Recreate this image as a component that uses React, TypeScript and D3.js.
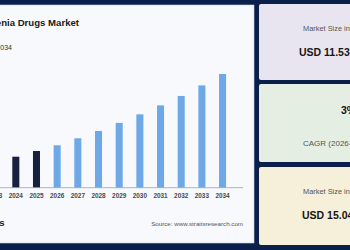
import React from "react";
import * as d3 from "d3";

const years = ["2023", "2024", "2025", "2026", "2027", "2028", "2029", "2030", "2031", "2032", "2033", "2034"];
const marketSize = [11.0, 11.27, 11.53, 11.79, 12.11, 12.44, 12.81, 13.2, 13.61, 14.04, 14.52, 15.04];
const historicYears = ["2023", "2024", "2025"];

const cards = [
  { label: "Market Size in 2025", value: "USD 11.53 Billion", fill: "#e9e5f0", valueFirst: false },
  { label: "CAGR (2026-2034)", value: "3%", fill: "#e5eee2", valueFirst: true },
  { label: "Market Size in 2034", value: "USD 15.04 Billion", fill: "#f6efd9", valueFirst: false },
];

const W = 350;
const H = 250;
const font = "'Liberation Sans', Arial, sans-serif";

const App = () => {
  const baseline = 187.7;
  const x = d3
    .scaleBand()
    .domain(years)
    .range([-15.2, 232.9])
    .paddingInner(0.66)
    .paddingOuter(0.33);
  const y = d3.scaleLinear().domain([9.857, 15.04]).range([baseline, 74]);

  const cardTops = [4, 84, 167];
  const cardBottoms = [80, 162, 245];

  return (
    <svg
      width={W}
      height={H}
      style={{ position: "absolute", left: 0, top: 0, fontFamily: font }}
    >
      <rect width={W} height={H} fill="#0a1f4a" />

      {/* main chart panel */}
      <rect x={-4} y={5} width={258} height={238} fill="#f7f9fd" stroke="#c9d3e6" strokeWidth={0.6} />
      <text x={79} y={26} textAnchor="end" fontSize={9.6} fontWeight="bold" fill="#1b1b1b">
        Schizophrenia Drugs Market
      </text>
      <text x={12} y={50} textAnchor="end" fontSize={7} fill="#333">
        Market Size, 2023-2034
      </text>

      {years.map((yr, i) => (
        <rect
          key={yr}
          x={x(yr)}
          y={y(marketSize[i])}
          width={x.bandwidth()}
          height={baseline - y(marketSize[i])}
          fill={historicYears.includes(yr) ? "#16213d" : "#6ea8e6"}
        />
      ))}
      <line x1={0} x2={243} y1={baseline} y2={baseline} stroke="#9aa3b2" strokeWidth={0.8} />
      {years.map(yr => (
        <text
          key={yr}
          x={(x(yr) as number) + x.bandwidth() / 2}
          y={198}
          textAnchor="middle"
          fontSize={6.4}
          fontWeight="bold"
          fill="#4a4a4a"
        >
          {yr}
        </text>
      ))}

      <text x={4.5} y={226} textAnchor="end" fontSize={9.5} fontWeight="bold" fill="#13234a">
        Straits
      </text>
      <text x={243} y={226} textAnchor="end" fontSize={6.2} fill="#555">
        Source: www.straitsresearch.com
      </text>

      {/* summary cards */}
      {cards.map((c, i) => {
        const top = cardTops[i];
        const bottom = cardBottoms[i];
        return (
          <g key={c.label}>
            <rect x={259} y={top} width={100} height={bottom - top} rx={2} fill={c.fill} />
            {c.valueFirst ? (
              <>
                <text x={341} y={114} fontSize={10.5} fontWeight="bold" fill="#151515">
                  {c.value}
                </text>
                <text x={303} y={146} fontSize={8} fill="#555">
                  {c.label}
                </text>
              </>
            ) : (
              <>
                <text x={303} y={top + 27} fontSize={7.4} fill="#555">
                  {c.label}
                </text>
                <text x={i === 0 ? 299 : 302} y={top + 52} fontSize={10.5} fontWeight="bold" fill="#151515">
                  {c.value}
                </text>
              </>
            )}
          </g>
        );
      })}
    </svg>
  );
};

export default App;
